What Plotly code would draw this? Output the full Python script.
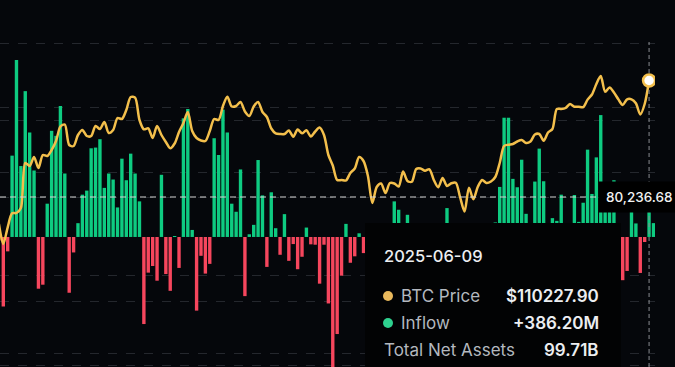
import plotly.graph_objects as go
import pandas as pd

# ---------------- data ----------------
dates = [d.strftime("%Y-%m-%d") for d in pd.bdate_range(end="2025-06-10", periods=150)]

inflow_musd = [
    -55,
    -1078, -223, 1261, 2745, 1100, 2261, 1620, 1031, -802, -740,
    516, 1646, 1568, 2031, 984, -865, -240, 214, 656, 719,
    1375, 1386, 1516, 761, 984, 891, 458, 1214, 880, 1292,
    984, 552, -1350, -553, -450, -678, 964, -575, -835, 15,
    -480, 1839, 1984, 109, -1142, -292, -568, -417, 1531, 1271,
    1974, 1620, 516, 391, 1047, -917, 42, 188, 1193, 645,
    -464, 693, 136, -276, 354, -370, -110, -500, -307, 146,
    -114, -120, -724, -120, -1031, -2300, -1505, -600, 203, -400,
    -300, 57, -250, -150, -370, -200, 95, -60, -140, 552,
    422, -100, 344, -90, -280, 130, -160, -320, -170, -60,
    160, 448, -100, -590, -170, -330, -60, -170, 120, -60,
    -230, 150, 225, 776, 1849, 1849, 901, 771, 1198, 359,
    100, 859, 1370, 864, -50, 292, 250, 656, 150, -100,
    651, 234, 531, 1354, 667, 1234, 1890, 411, 422, 880,
    100, -670, -527, 415, 210, -558, -78, 386.2, 215,
]

btc_price = [
    73280,
    68130, 72430, 76035, 76112, 77400, 88986, 88213, 90531, 87698, 91046,
    90788, 92333, 94650, 98383, 98898, 93620, 93363, 96195, 97482, 95937,
    95937, 98512, 97740, 99542, 96710, 97482, 100572, 100314, 102632, 105979,
    105799, 100057, 97662, 97920, 95422, 98512, 96195, 94393, 92771, 94006,
    96967, 99285, 102117, 97225, 95422, 94779, 94650, 97225, 100314, 100057,
    103662, 106056, 103533, 103662, 104691, 102245, 101087, 103533, 104691, 102117,
    100829, 97868, 96633, 96452, 96452, 97353, 95757, 97611, 96633, 97405,
    95809, 97096, 98126, 96195, 91046, 88342, 84609, 84609, 84480, 86411,
    87570, 90531, 89501, 85639, 78687, 82806, 83708, 81262, 83836, 83708,
    82935, 86797, 84351, 84171, 87441, 87570, 87003, 87364, 84609, 82729,
    85124, 83064, 83759, 83914, 80103, 76498, 82626, 79640, 82806, 84609,
    83836, 84223, 85381, 88986, 93363, 93697, 93878, 94521, 94907, 94135,
    94521, 96324, 96452, 94727, 96839, 97740, 102889, 102889, 103147, 104176,
    103481, 103481, 103353, 105309, 106622, 109326, 111385, 107343, 108425, 107137,
    105387, 103919, 105387, 105387, 104357, 101473, 104176, 110227.90, None,
]

assert len(dates) == len(inflow_musd) == len(btc_price)

hover_date = "2025-06-09"
hover_price_text = "$110227.90"
hover_inflow_text = "+386.20M"
hover_assets_text = "99.71B"
cursor_price = 80236.68
cursor_label = "80,236.68"

# ---------------- style ----------------
BG = "#05070b"
GREEN = "#0ecb81"
RED = "#f6465d"
YELLOW = "#f3bf4c"
GRID = "#24272d"
FONT = "Inter"

PLOT_W, PLOT_T, PLOT_H = 655, 42, 325


def px(x):
    return x / PLOT_W


def py(y):
    return (PLOT_T + PLOT_H - y) / PLOT_H


bar_colors = [GREEN if v >= 0 else RED for v in inflow_musd]

fig = go.Figure()
fig.add_trace(go.Bar(
    x=dates, y=inflow_musd, marker=dict(color=bar_colors, line=dict(width=0)),
    yaxis="y", showlegend=False, hoverinfo="skip",
))
fig.add_trace(go.Scatter(
    x=dates, y=btc_price, mode="lines",
    line=dict(color=YELLOW, width=2.5, shape="spline", smoothing=0.8),
    yaxis="y2", showlegend=False, hoverinfo="skip",
))
hi = dates.index(hover_date)

shapes = [
    # crosshair vertical
    dict(type="line", xref="x", yref="paper", x0=dates[hi], x1=dates[hi], y0=0, y1=1,
         line=dict(color="#8a8d92", width=1, dash="4px,3px"), layer="above"),
    # hover point on the price line
    dict(type="circle", xref="x", yref="y2", xsizemode="pixel", ysizemode="pixel",
         xanchor=dates[hi], yanchor=btc_price[hi], x0=-6, x1=6, y0=-6, y1=6,
         fillcolor="#ffffff", line=dict(color=YELLOW, width=2.5), layer="above"),
    # crosshair horizontal
    dict(type="line", xref="paper", yref="y2", x0=0, x1=px(600), y0=cursor_price, y1=cursor_price,
         line=dict(color="#d6d6d6", width=1.2, dash="6px,4px"), layer="above"),
    # tooltip panel
    dict(type="rect", xref="paper", yref="paper", x0=px(365), x1=px(621), y0=-0.2, y1=py(223),
         fillcolor="#020304", line=dict(width=0), layer="above"),
    # tooltip dots
    dict(type="circle", xref="paper", yref="paper", xsizemode="pixel", ysizemode="pixel",
         xanchor=px(388), yanchor=py(296), x0=-5, x1=5, y0=-5, y1=5,
         fillcolor="#e9b95c", line=dict(width=0), layer="above"),
    dict(type="circle", xref="paper", yref="paper", xsizemode="pixel", ysizemode="pixel",
         xanchor=px(388), yanchor=py(323), x0=-5, x1=5, y0=-5, y1=5,
         fillcolor="#2ed18f", line=dict(width=0), layer="above"),
]

LABEL_C = "#b3b8bf"
VALUE_C = "#eceef1"
ann = [
    dict(text=hover_date, x=px(382), y=py(256), xanchor="left",
         font=dict(size=16.5, color=VALUE_C, family=FONT, weight=500)),
    dict(text="BTC Price", x=px(399), y=py(296), xanchor="left",
         font=dict(size=17, color=LABEL_C, family=FONT)),
    dict(text=hover_price_text, x=px(601), y=py(296), xanchor="right",
         font=dict(size=17, color=VALUE_C, family=FONT, weight=600)),
    dict(text="Inflow", x=px(399), y=py(323), xanchor="left",
         font=dict(size=17, color=LABEL_C, family=FONT)),
    dict(text=hover_inflow_text, x=px(601), y=py(323), xanchor="right",
         font=dict(size=17, color=VALUE_C, family=FONT, weight=600)),
    dict(text="Total Net Assets", x=px(382), y=py(350), xanchor="left",
         font=dict(size=17, color=LABEL_C, family=FONT)),
    dict(text=hover_assets_text, x=px(601), y=py(350), xanchor="right",
         font=dict(size=17, color=VALUE_C, family=FONT, weight=600)),
]
annotations = [dict(a, xref="paper", yref="paper", yanchor="middle", showarrow=False) for a in ann]
annotations.append(dict(
    text=cursor_label, xref="paper", yref="y2", x=px(639), y=cursor_price,
    xanchor="center", yanchor="middle", showarrow=False, bgcolor="#000000", borderpad=7,
    font=dict(size=13.5, color="#f2f2f2", family=FONT, weight=500),
))

fig.update_layout(
    width=675, height=367, autosize=False,
    margin=dict(l=0, r=675 - PLOT_W, t=PLOT_T, b=0, pad=0),
    paper_bgcolor=BG, plot_bgcolor=BG,
    bargap=0.23, hovermode=False,
    xaxis=dict(type="category", range=[0.249, 149.35], showgrid=False, showticklabels=False,
               zeroline=False, showline=False, ticks=""),
    yaxis=dict(range=[-2016, 3023], tickvals=[-2000, -1000, 1000, 2000, 3000],
               showgrid=True, gridcolor=GRID, griddash="dash", gridwidth=1,
               showticklabels=False, zeroline=False, showline=False, ticks=""),
    yaxis2=dict(range=[36462, 120140], tickvals=[40000, 60000, 80000, 100000],
                overlaying="y", side="right",
                showgrid=True, gridcolor=GRID, griddash="dash", gridwidth=1,
                showticklabels=False, zeroline=False, showline=False, ticks=""),
    shapes=shapes, annotations=annotations,
)

fig.write_html("out.html", config={"displayModeBar": False},
               post_script="document.body.style.margin='0';document.body.style.overflow='hidden';")
